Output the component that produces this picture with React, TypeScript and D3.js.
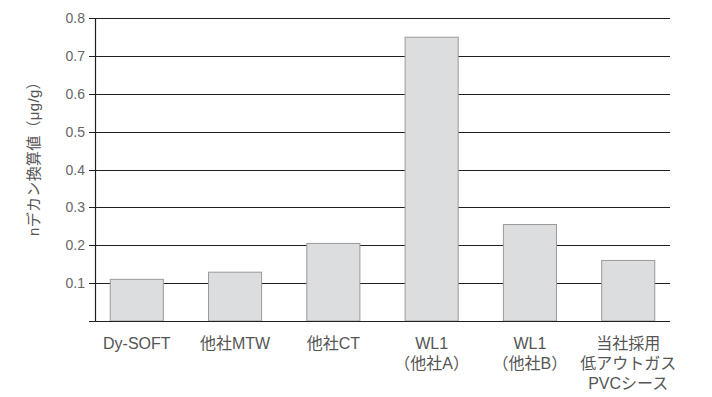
import React from "react";
import * as d3 from "d3";

const categories: string[][] = [
  ["Dy-SOFT"],
  ["他社MTW"],
  ["他社CT"],
  ["WL1", "（他社A）"],
  ["WL1", "（他社B）"],
  ["当社採用", "低アウトガス", "PVCシース"],
];
const values: number[] = [0.11, 0.129, 0.205, 0.75, 0.255, 0.16];
const yTicks: number[] = [0.1, 0.2, 0.3, 0.4, 0.5, 0.6, 0.7, 0.8];
const yLabel = "nデカン換算値（μg/g）";

const W = 712;
const H = 397;
const FONT = "'Liberation Sans', Arial, 'Noto Sans CJK JP', sans-serif";

export default function App() {
  const keys = categories.map((c, i) => String(i));
  const x = d3
    .scaleBand<string>()
    .domain(keys)
    .range([95, 670])
    .paddingInner(0.46)
    .paddingOuter(0.155);
  const y = d3.scaleLinear().domain([0, 0.8]).range([321, 18.3]);

  const lineColor = "#231f20";

  return (
    <svg
      width={W}
      height={H}
      style={{ position: "absolute", left: 0, top: 0, display: "block", background: "#fff" }}
      fontFamily={FONT}
    >
      {/* gridlines & ticks */}
      {yTicks.map((t) => (
        <line
          key={"g" + t}
          x1={89}
          x2={670}
          y1={Math.round(y(t)) + 0.5}
          y2={Math.round(y(t)) + 0.5}
          stroke={lineColor}
          strokeWidth={1.2}
        />
      ))}
      {/* bars */}
      {values.map((v, i) => (
        <rect
          key={"b" + i}
          x={x(keys[i])!}
          y={y(v)}
          width={x.bandwidth()}
          height={y(0) - y(v)}
          fill="#dcdddf"
          stroke="#9a9a9a"
          strokeWidth={1}
        />
      ))}
      {/* baseline */}
      <line
        x1={89}
        x2={670}
        y1={Math.round(y(0)) + 0.5}
        y2={Math.round(y(0)) + 0.5}
        stroke={lineColor}
        strokeWidth={1.2}
      />
      {/* y axis line */}
      <line x1={95.5} x2={95.5} y1={y(0.8)} y2={y(0)} stroke={lineColor} strokeWidth={1.2} />
      {/* tick labels */}
      {yTicks.map((t) => (
        <text
          key={"t" + t}
          x={85}
          y={y(t)}
          textAnchor="end"
          dominantBaseline="central"
          fontSize={14}
          fill="#666"
        >
          {t.toFixed(1)}
        </text>
      ))}
      {/* x labels */}
      {categories.map((lines, i) => (
        <text
          key={"x" + i}
          x={x(keys[i])! + x.bandwidth() / 2}
          textAnchor="middle"
          fontSize={16}
          fill="#555"
        >
          {lines.map((l, j) => (
            <tspan key={j} x={x(keys[i])! + x.bandwidth() / 2} y={349 + j * 20}>
              {l}
            </tspan>
          ))}
        </text>
      ))}
      {/* y label */}
      <text
        transform={`translate(33,155) rotate(-90)`}
        textAnchor="middle"
        dominantBaseline="central"
        fontSize={15}
        letterSpacing={0.3}
        fill="#555"
      >
        {yLabel}
      </text>
    </svg>
  );
}
